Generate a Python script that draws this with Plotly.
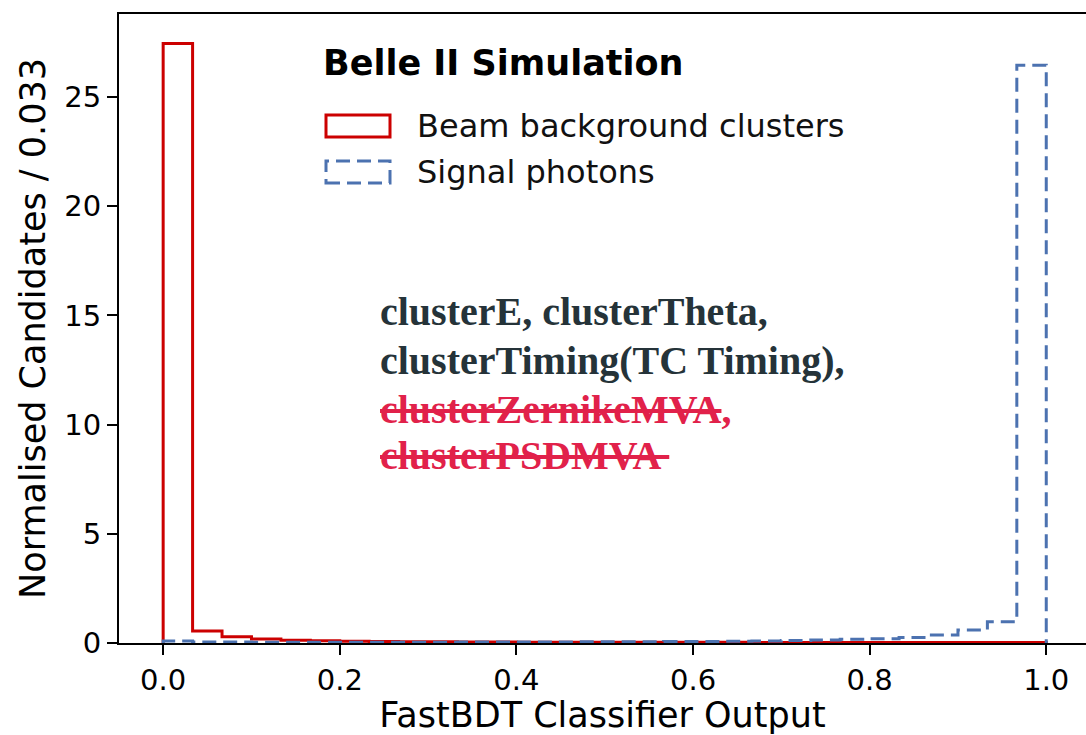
import numpy as np
import plotly.graph_objects as go

# ---- data ----
bin_edges = [i / 30 for i in range(31)]
background = [27.45, 0.55, 0.29, 0.18, 0.13, 0.10, 0.08, 0.07, 0.06, 0.055,
              0.05, 0.045, 0.04, 0.04, 0.035, 0.035, 0.03, 0.03, 0.03, 0.03,
              0.025, 0.025, 0.025, 0.025, 0.02, 0.02, 0.02, 0.02, 0.02, 0.02]
signal = [0.09, 0.05, 0.045, 0.04, 0.04, 0.04, 0.04, 0.04, 0.04, 0.04,
          0.045, 0.045, 0.05, 0.05, 0.055, 0.06, 0.06, 0.065, 0.07, 0.08,
          0.09, 0.11, 0.14, 0.17, 0.20, 0.25, 0.37, 0.60, 0.97, 26.45]
series_names = ["Beam background clusters", "Signal photons"]
x_ticks = [0.0, 0.2, 0.4, 0.6, 0.8, 1.0]
y_ticks = [0, 5, 10, 15, 20, 25]
features_kept = ["clusterE, clusterTheta,", "clusterTiming(TC Timing),"]
features_removed = ["clusterZernikeMVA", "clusterPSDMVA "]

RED = "#cc0000"
BLUE = "#4c72b0"
STRIKE = "#e1214a"
DARK = "#253339"


def step_xy(edges, vals):
    xs = [edges[0]] + list(edges)
    ys = [0] + list(vals) + [0]
    return xs, ys


fig = go.Figure()
for vals, col, dash in [(background, RED, "solid"), (signal, BLUE, "14px,7px")]:
    xs, ys = step_xy(bin_edges, vals)
    fig.add_trace(go.Scatter(x=xs, y=ys, mode="lines", line_shape="hv",
                             line=dict(color=col, width=3, dash=dash),
                             showlegend=False, hoverinfo="skip"))

W, H = 1086, 735
L, R, T, B = 119, 0, 14, 92
pw, ph = W - L - R, H - T - B


def px(x):
    return (x - L) / pw


def py(y):
    return (H - B - y) / ph


fig.update_layout(
    width=W, height=H,
    margin=dict(l=L, r=R, t=T, b=B, pad=0),
    paper_bgcolor="white", plot_bgcolor="white",
    font=dict(family="DejaVu Sans", color="black"),
    xaxis=dict(range=[-0.05, 1.045], tickvals=x_ticks,
               ticktext=[f"{v:.1f}" for v in x_ticks],
               ticks="outside", ticklen=10, tickwidth=2, tickcolor="black",
               showline=True, linecolor="black", linewidth=2, mirror=True,
               showgrid=False, zeroline=False, tickfont=dict(size=29),
               title=dict(text="FastBDT Classifier Output", font=dict(size=35),
                          standoff=6)),
    yaxis=dict(range=[0, 28.8], tickvals=y_ticks,
               ticks="outside", ticklen=10, tickwidth=2, tickcolor="black",
               showline=True, linecolor="black", linewidth=2,
               showgrid=False, zeroline=False, tickfont=dict(size=29),
               title=dict(text="Normalised Candidates / 0.033", font=dict(size=35),
                          standoff=8)),
)

# legend (drawn manually to mimic patch-style legend)
fig.add_shape(type="rect", xref="paper", yref="paper",
              x0=px(326), x1=px(390), y0=py(137), y1=py(115),
              line=dict(color=RED, width=3), fillcolor="rgba(0,0,0,0)")
fig.add_shape(type="rect", xref="paper", yref="paper",
              x0=px(326), x1=px(390), y0=py(183), y1=py(161),
              line=dict(color=BLUE, width=3, dash="14px,7px"), fillcolor="rgba(0,0,0,0)")
fig.add_annotation(xref="paper", yref="paper", x=px(321), y=py(63),
                   xanchor="left", yanchor="middle", showarrow=False,
                   text="<b>Belle II Simulation</b>", font=dict(size=35, color="black"))
fig.add_annotation(xref="paper", yref="paper", x=px(415), y=py(126),
                   xanchor="left", yanchor="middle", showarrow=False,
                   text=series_names[0], font=dict(size=32, color="#111"))
fig.add_annotation(xref="paper", yref="paper", x=px(415), y=py(172),
                   xanchor="left", yanchor="middle", showarrow=False,
                   text=series_names[1], font=dict(size=32, color="#111"))

# feature text
lines = [
    (f"<b>{features_kept[0]}</b>", 311, DARK),
    (f"<b>{features_kept[1]}</b>", 360, DARK),
    (f"<b><s>{features_removed[0]}</s>,</b>", 409, STRIKE),
    (f"<b><s>{features_removed[1]}</s></b>", 456, STRIKE),
]
for txt, yy, col in lines:
    fig.add_annotation(xref="paper", yref="paper", x=px(378), y=py(yy),
                       xanchor="left", yanchor="middle", showarrow=False,
                       text=txt, font=dict(size=40, color=col,
                                           family="Liberation Serif"))

fig.write_html("out.html")
